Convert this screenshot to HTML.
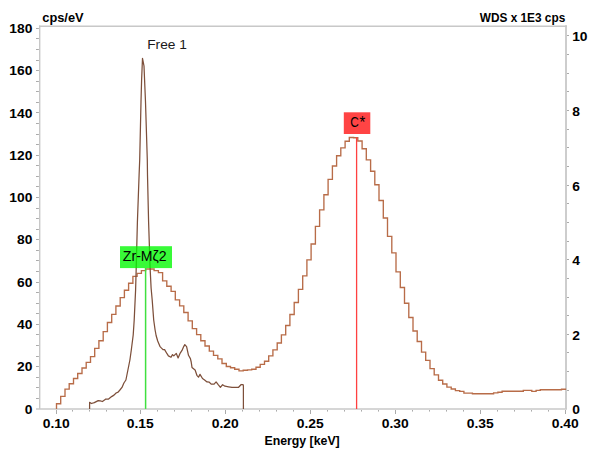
<!DOCTYPE html><html><head><meta charset="utf-8"><style>html,body{margin:0;padding:0;background:#fff;}svg{display:block;}text{font-family:"Liberation Sans",sans-serif;}</style></head><body>
<svg width="605" height="454" viewBox="0 0 605 454">
<rect width="605" height="454" fill="#fff"/>
<line x1="39.7" y1="409" x2="39.7" y2="25.5" stroke="#c8c8c8" stroke-width="1.4"/>
<line x1="39" y1="26.2" x2="566.9" y2="26.2" stroke="#c8c8c8" stroke-width="1.4"/>
<line x1="566" y1="25.2" x2="566" y2="409" stroke="#c8c8c8" stroke-width="1.8"/>
<line x1="36" y1="409" x2="567" y2="409" stroke="#c8c8c8" stroke-width="1.7"/>
<path d="M36,398.5H38.9 M36,387.5H38.9 M36,377.5H38.9 M36,366.5H38.9 M36,356.5H38.9 M36,345.5H38.9 M36,334.5H38.9 M36,324.5H38.9 M36,313.5H38.9 M36,303.5H38.9 M36,292.5H38.9 M36,282.5H38.9 M36,271.5H38.9 M36,260.5H38.9 M36,250.5H38.9 M36,239.5H38.9 M36,229.5H38.9 M36,218.5H38.9 M36,208.5H38.9 M36,197.5H38.9 M36,186.5H38.9 M36,176.5H38.9 M36,165.5H38.9 M36,155.5H38.9 M36,144.5H38.9 M36,134.5H38.9 M36,123.5H38.9 M36,112.5H38.9 M36,102.5H38.9 M36,91.5H38.9 M36,81.5H38.9 M36,70.5H38.9 M36,60.5H38.9 M36,49.5H38.9 M36,38.5H38.9 M36,28.5H38.9 M567,390.5H569 M567,371.5H569 M567,352.5H569 M567,334.5H569 M567,315.5H569 M567,297.5H569 M567,278.5H569 M567,259.5H569 M567,241.5H569 M567,222.5H569 M567,203.5H569 M567,185.5H569 M567,166.5H569 M567,147.5H569 M567,129.5H569 M567,110.5H569 M567,91.5H569 M567,73.5H569 M567,54.5H569 M567,35.5H569 M56.5,410V414 M72.5,410V411.6 M89.5,410V411.6 M106.5,410V411.6 M123.5,410V411.6 M140.5,410V414 M157.5,410V411.6 M174.5,410V411.6 M191.5,410V411.6 M208.5,410V411.6 M225.5,410V414 M242.5,410V411.6 M259.5,410V411.6 M276.5,410V411.6 M293.5,410V411.6 M310.5,410V414 M327.5,410V411.6 M344.5,410V411.6 M361.5,410V411.6 M378.5,410V411.6 M395.5,410V414 M412.5,410V411.6 M429.5,410V411.6 M446.5,410V411.6 M463.5,410V411.6 M480.5,410V414 M497.5,410V411.6 M514.5,410V411.6 M531.5,410V411.6 M548.5,410V411.6 M565.5,410V414" fill="none" stroke="#ababab" stroke-width="1"/>
<text x="32.35" y="413.6" text-anchor="end" textLength="7.69" font-size="12" font-weight="bold" fill="#000" lengthAdjust="spacingAndGlyphs">0</text>
<text x="32.35" y="371.3" text-anchor="end" textLength="15.38" font-size="12" font-weight="bold" fill="#000" lengthAdjust="spacingAndGlyphs">20</text>
<text x="32.35" y="329.0" text-anchor="end" textLength="15.38" font-size="12" font-weight="bold" fill="#000" lengthAdjust="spacingAndGlyphs">40</text>
<text x="32.35" y="286.7" text-anchor="end" textLength="15.38" font-size="12" font-weight="bold" fill="#000" lengthAdjust="spacingAndGlyphs">60</text>
<text x="32.35" y="244.4" text-anchor="end" textLength="15.38" font-size="12" font-weight="bold" fill="#000" lengthAdjust="spacingAndGlyphs">80</text>
<text x="32.35" y="202.2" text-anchor="end" textLength="23.07" font-size="12" font-weight="bold" fill="#000" lengthAdjust="spacingAndGlyphs">100</text>
<text x="32.35" y="159.9" text-anchor="end" textLength="23.07" font-size="12" font-weight="bold" fill="#000" lengthAdjust="spacingAndGlyphs">120</text>
<text x="32.35" y="117.6" text-anchor="end" textLength="23.07" font-size="12" font-weight="bold" fill="#000" lengthAdjust="spacingAndGlyphs">140</text>
<text x="32.35" y="75.3" text-anchor="end" textLength="23.07" font-size="12" font-weight="bold" fill="#000" lengthAdjust="spacingAndGlyphs">160</text>
<text x="32.35" y="33.0" text-anchor="end" textLength="23.07" font-size="12" font-weight="bold" fill="#000" lengthAdjust="spacingAndGlyphs">180</text>
<text x="572.2" y="414.4" textLength="7.69" font-size="12" font-weight="bold" fill="#000" lengthAdjust="spacingAndGlyphs">0</text>
<text x="572.2" y="339.8" textLength="7.69" font-size="12" font-weight="bold" fill="#000" lengthAdjust="spacingAndGlyphs">2</text>
<text x="572.2" y="265.2" textLength="7.69" font-size="12" font-weight="bold" fill="#000" lengthAdjust="spacingAndGlyphs">4</text>
<text x="572.2" y="190.6" textLength="7.69" font-size="12" font-weight="bold" fill="#000" lengthAdjust="spacingAndGlyphs">6</text>
<text x="572.2" y="116.0" textLength="7.69" font-size="12" font-weight="bold" fill="#000" lengthAdjust="spacingAndGlyphs">8</text>
<text x="572.2" y="41.4" textLength="15.38" font-size="12" font-weight="bold" fill="#000" lengthAdjust="spacingAndGlyphs">10</text>
<text x="56.3" y="427.5" text-anchor="middle" textLength="27.0" font-size="12" font-weight="bold" fill="#000" lengthAdjust="spacingAndGlyphs">0.10</text>
<text x="140.3" y="427.5" text-anchor="middle" textLength="27.0" font-size="12" font-weight="bold" fill="#000" lengthAdjust="spacingAndGlyphs">0.15</text>
<text x="225.3" y="427.5" text-anchor="middle" textLength="27.0" font-size="12" font-weight="bold" fill="#000" lengthAdjust="spacingAndGlyphs">0.20</text>
<text x="310.3" y="427.5" text-anchor="middle" textLength="27.0" font-size="12" font-weight="bold" fill="#000" lengthAdjust="spacingAndGlyphs">0.25</text>
<text x="395.3" y="427.5" text-anchor="middle" textLength="27.0" font-size="12" font-weight="bold" fill="#000" lengthAdjust="spacingAndGlyphs">0.30</text>
<text x="480.3" y="427.5" text-anchor="middle" textLength="27.0" font-size="12" font-weight="bold" fill="#000" lengthAdjust="spacingAndGlyphs">0.35</text>
<text x="565.3" y="427.5" text-anchor="middle" textLength="27.0" font-size="12" font-weight="bold" fill="#000" lengthAdjust="spacingAndGlyphs">0.40</text>
<text x="42.27" y="21.5" textLength="41.38" font-size="12" font-weight="bold" fill="#000" lengthAdjust="spacingAndGlyphs">cps/eV</text>
<text x="479.8" y="21.5" textLength="85.45" font-size="12" font-weight="bold" fill="#000" lengthAdjust="spacingAndGlyphs">WDS x 1E3 cps</text>
<text x="264.43" y="445.1" textLength="75.3" font-size="12" font-weight="bold" fill="#000" lengthAdjust="spacingAndGlyphs">Energy [keV]</text>
<path d="M56.5,408.9 L56.5,403.7 L60.7,403.7 L60.7,396.3 L65.0,396.3 L65.0,389.1 L69.2,389.1 L69.2,383.7 L73.5,383.7 L73.5,378.5 L77.7,378.5 L77.7,373.5 L82.0,373.5 L82.0,368.0 L86.2,368.0 L86.2,362.4 L90.5,362.4 L90.5,356.6 L94.7,356.6 L94.7,348.4 L98.9,348.4 L98.9,340.7 L103.2,340.7 L103.2,331.6 L107.4,331.6 L107.4,322.5 L111.7,322.5 L111.7,314.3 L115.9,314.3 L115.9,306.0 L120.2,306.0 L120.2,297.6 L124.4,297.6 L124.4,290.2 L128.6,290.2 L128.6,283.2 L132.9,283.2 L132.9,276.4 L137.1,276.4 L137.1,273.4 L141.4,273.4 L141.4,270.6 L145.6,270.6 L145.6,269.0 L149.9,269.0 L149.9,269.0 L154.1,269.0 L154.1,270.6 L158.4,270.6 L158.4,272.6 L162.6,272.6 L162.6,280.8 L166.8,280.8 L166.8,286.2 L171.1,286.2 L171.1,291.4 L175.3,291.4 L175.3,299.8 L179.6,299.8 L179.6,305.9 L183.8,305.9 L183.8,312.5 L188.1,312.5 L188.1,320.9 L192.3,320.9 L192.3,328.6 L196.6,328.6 L196.6,334.6 L200.8,334.6 L200.8,340.7 L205.0,340.7 L205.0,346.0 L209.3,346.0 L209.3,351.1 L213.5,351.1 L213.5,355.3 L217.8,355.3 L217.8,358.8 L222.0,358.8 L222.0,363.5 L226.3,363.5 L226.3,366.5 L230.5,366.5 L230.5,367.7 L234.7,367.7 L234.7,369.2 L239.0,369.2 L239.0,370.9 L243.2,370.9 L243.2,370.2 L247.5,370.2 L247.5,369.9 L251.7,369.9 L251.7,369.2 L256.0,369.2 L256.0,367.2 L260.2,367.2 L260.2,364.3 L264.5,364.3 L264.5,361.2 L268.7,361.2 L268.7,355.8 L272.9,355.8 L272.9,349.8 L277.2,349.8 L277.2,343.0 L281.4,343.0 L281.4,334.8 L285.7,334.8 L285.7,325.5 L289.9,325.5 L289.9,314.5 L294.2,314.5 L294.2,302.5 L298.4,302.5 L298.4,289.3 L302.7,289.3 L302.7,275.8 L306.9,275.8 L306.9,259.8 L311.1,259.8 L311.1,244.0 L315.4,244.0 L315.4,226.3 L319.6,226.3 L319.6,209.9 L323.9,209.9 L323.9,194.7 L328.1,194.7 L328.1,179.4 L332.4,179.4 L332.4,166.0 L336.6,166.0 L336.6,155.7 L340.8,155.7 L340.8,147.8 L345.1,147.8 L345.1,141.2 L349.3,141.2 L349.3,137.5 L353.6,137.5 L353.6,137.7 L357.8,137.7 L357.8,141.0 L362.1,141.0 L362.1,148.7 L366.3,148.7 L366.3,159.8 L370.6,159.8 L370.6,171.2 L374.8,171.2 L374.8,184.7 L379.0,184.7 L379.0,200.5 L383.3,200.5 L383.3,218.0 L387.5,218.0 L387.5,236.3 L391.8,236.3 L391.8,252.9 L396.0,252.9 L396.0,271.8 L400.3,271.8 L400.3,287.5 L404.5,287.5 L404.5,303.2 L408.8,303.2 L408.8,317.5 L413.0,317.5 L413.0,331.0 L417.2,331.0 L417.2,341.5 L421.5,341.5 L421.5,352.1 L425.7,352.1 L425.7,360.4 L430.0,360.4 L430.0,368.6 L434.2,368.6 L434.2,374.8 L438.5,374.8 L438.5,380.2 L442.7,380.2 L442.7,384.0 L446.9,384.0 L446.9,387.1 L451.2,387.1 L451.2,389.0 L455.4,389.0 L455.4,390.6 L459.7,390.6 L459.7,391.3 L463.9,391.3 L463.9,393.1 L468.2,393.1 L468.2,393.1 L472.4,393.1 L472.4,393.7 L476.7,393.7 L476.7,393.7 L480.9,393.7 L480.9,393.7 L485.1,393.7 L485.1,393.7 L489.4,393.7 L489.4,393.7 L493.6,393.7 L493.6,392.9 L497.9,392.9 L497.9,392.2 L502.1,392.2 L502.1,391.2 L506.4,391.2 L506.4,391.2 L510.6,391.2 L510.6,391.2 L514.9,391.2 L514.9,391.2 L519.1,391.2 L519.1,391.2 L523.3,391.2 L523.3,390.4 L527.6,390.4 L527.6,390.4 L531.8,390.4 L531.8,391.4 L536.1,391.4 L536.1,390.4 L540.3,390.4 L540.3,389.7 L544.6,389.7 L544.6,389.7 L548.8,389.7 L548.8,389.7 L553.0,389.7 L553.0,389.7 L557.3,389.7 L557.3,389.7 L561.5,389.7 L561.5,389.2 L566.1,389.2" fill="none" stroke="#b86c48" stroke-width="1.35" stroke-linejoin="miter"/>
<line x1="356.6" y1="137.3" x2="356.6" y2="408.9" stroke="#ff4040" stroke-width="1.3"/>
<line x1="145.6" y1="268" x2="145.6" y2="408.9" stroke="#40e040" stroke-width="1.5"/>
<rect x="343.8" y="112.3" width="26.5" height="21.7" fill="#ff4444"/>
<text x="350.27" y="127.2" font-size="14" textLength="8.56" lengthAdjust="spacingAndGlyphs" fill="#000">C</text><text x="359.5" y="127.8" font-size="17" textLength="5.8" lengthAdjust="spacingAndGlyphs" fill="#000">*</text>
<path d="M89.6,408.9 L89.6,402.3 L91.4,403.5 L94.3,402.6 L98.2,400.6 L100.3,400.8 L102.4,401.5 L105.9,399.0 L108.3,399.2 L111.6,396.6 L114.0,395.1 L116.1,393.0 L118.1,392.1 L119.9,390.0 L122.0,387.4 L123.9,383.0 L125.9,380.0 L127.9,370.0 L129.9,360.0 L131.3,350.0 L133.2,335.0 L134.2,320.0 L135.6,290.0 L136.2,268.0 L137.4,222.0 L139.1,175.0 L139.7,160.0 L141.0,102.0 L141.6,80.0 L142.5,58.3 L144.0,66.0 L145.5,102.0 L147.3,160.0 L147.5,175.0 L148.6,222.0 L150.1,268.0 L151.1,288.0 L152.2,300.0 L153.7,320.0 L155.1,330.0 L156.1,335.5 L157.7,341.0 L159.9,346.3 L160.8,347.4 L163.0,349.6 L164.6,349.6 L167.0,353.7 L168.4,355.9 L171.0,357.3 L172.5,354.6 L173.8,355.9 L176.3,353.4 L178.1,357.9 L179.9,353.7 L182.0,350.4 L183.7,346.6 L184.8,344.6 L186.6,346.6 L188.5,355.3 L190.4,358.6 L191.2,362.0 L192.0,367.4 L195.1,370.0 L196.9,375.3 L198.5,377.2 L200.0,374.4 L202.5,378.5 L204.6,380.0 L207.0,381.9 L209.3,382.2 L211.2,384.1 L214.1,384.1 L216.1,381.9 L218.2,384.6 L220.4,387.3 L222.6,384.7 L225.0,386.2 L228.6,386.8 L232.0,387.3 L238.6,387.3 L241.2,384.5 L243.1,384.7 L243.4,386.0 L243.4,408.9" fill="none" stroke="#7d4f3a" stroke-width="1.25" stroke-linejoin="round"/>
<rect x="120" y="246.2" width="52" height="21.9" fill="#00f800" fill-opacity="0.78"/>
<text x="122.85" y="260.9" font-size="14" textLength="43.8" lengthAdjust="spacingAndGlyphs" fill="#000">Zr-M&#950;2</text>
<text x="147.24" y="49.0" font-size="13" textLength="39.67" lengthAdjust="spacingAndGlyphs" fill="#1a1a1a">Free 1</text>
</svg></body></html>
